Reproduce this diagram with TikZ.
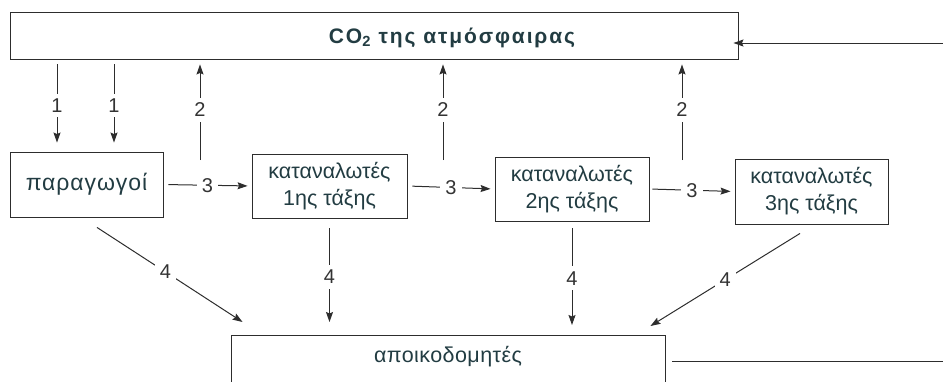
\documentclass[tikz,border=0pt]{standalone}
\usepackage{fontspec}
\setmainfont{Liberation Sans}
\usetikzlibrary{arrows.meta,calc}
\definecolor{txt}{RGB}{34,60,66}
\definecolor{ln}{RGB}{45,45,45}
\begin{document}
\begin{tikzpicture}[x=1pt,y=-1pt,
  box/.style={draw=ln, line width=0.9pt, inner sep=0pt, text=txt,
    font=\fontsize{21.5}{27}\selectfont, align=center},
  gtext/.style={text=txt, inner sep=0pt},
  conn/.style={draw=ln, line width=1pt},
  arr/.style={conn, -{Stealth[length=10pt,width=7pt,inset=1.5pt]}},
  lab/.style={font=\fontsize{20}{20}\selectfont, text=black!80, fill=white, inner sep=5pt}]
\useasboundingbox (0,0) rectangle (943,381);
\clip (0,0) rectangle (943,381);
% boxes
\node[box, minimum width=728, minimum height=47] (co2) at (374,35.5) {};
\node[gtext, font=\fontsize{21}{24}\bfseries\selectfont\addfontfeature{LetterSpace=9}] (co2t) at (452,37.5) {CO\textsubscript{2} της ατμόσφαιρας};
\node[box, minimum width=153, minimum height=65, font=\fontsize{23}{26}\selectfont\addfontfeature{LetterSpace=4}] (prod) at (86.5,184.5) {παραγωγοί};
\node[box, minimum width=155, minimum height=64] (c1) at (329.5,186) {καταναλωτές\\1ης τάξης};
\node[box, minimum width=154, minimum height=64] (c2) at (572,189) {καταναλωτές\\2ης τάξης};
\node[box, minimum width=153, minimum height=65] (c3) at (811.5,191.5) {καταναλωτές\\3ης τάξης};
\node[box, minimum width=434, minimum height=56, anchor=north] (dec) at (448,335) {};
\node[gtext, font=\fontsize{21.5}{24}\selectfont\addfontfeature{LetterSpace=2}] (dect) at (448,357) {αποικοδομητές};
% return path
\coordinate (rtop) at (950,43);
\coordinate (rbot) at (950,361);
\draw[arr, shorten >=-5pt] (rtop) -- (rtop -| co2.east);
\draw[conn] ([xshift=7pt]dec.east |- rbot) -- (rbot);
% 1 : photosynthesis
\coordinate (a1) at (57,0);
\coordinate (a2) at (114,0);
\draw[arr, shorten <=5pt, shorten >=9pt] (a1 |- co2.south) -- node[lab]{1} (a1 |- prod.north);
\draw[arr, shorten <=5pt, shorten >=9pt] (a2 |- co2.south) -- node[lab]{1} (a2 |- prod.north);
% 2 : respiration
\coordinate (b1) at (200,160);
\coordinate (b2) at (443,160);
\coordinate (b3) at (682,160);
\draw[arr, shorten >=5pt] (b1) -- node[lab]{2} (b1 |- co2.south);
\draw[arr, shorten >=5pt] (b2) -- node[lab]{2} (b2 |- co2.south);
\draw[arr, shorten >=5pt] (b3) -- node[lab]{2} (b3 |- co2.south);
% 3 : food chain
\draw[arr, shorten <=5pt, shorten >=4pt] (prod.east) -- node[lab]{3} (c1.west);
\draw[arr, shorten <=5pt, shorten >=4pt] (c1.east) -- node[lab]{3} (c2.west);
\draw[arr, shorten <=3pt, shorten >=4pt] (c2.east) -- node[lab]{3} (c3.west);
% 4 : to decomposers
\draw[arr] ($(prod.south)+(10.5,10)$) -- node[lab, pos=0.47]{4} ($(dec.north west)+(12,-13)$);
\draw[arr, shorten <=10pt, shorten >=13pt] (c1.south) -- node[lab]{4} (c1.south |- dec.north);
\draw[arr, shorten <=7pt, shorten >=10pt] (c2.south) -- node[lab]{4} (c2.south |- dec.north);
\draw[arr] ($(c3.south)+(-11.5,9)$) -- node[lab]{4} ($(dec.north east)+(-15,-9)$);
\end{tikzpicture}
\end{document}
